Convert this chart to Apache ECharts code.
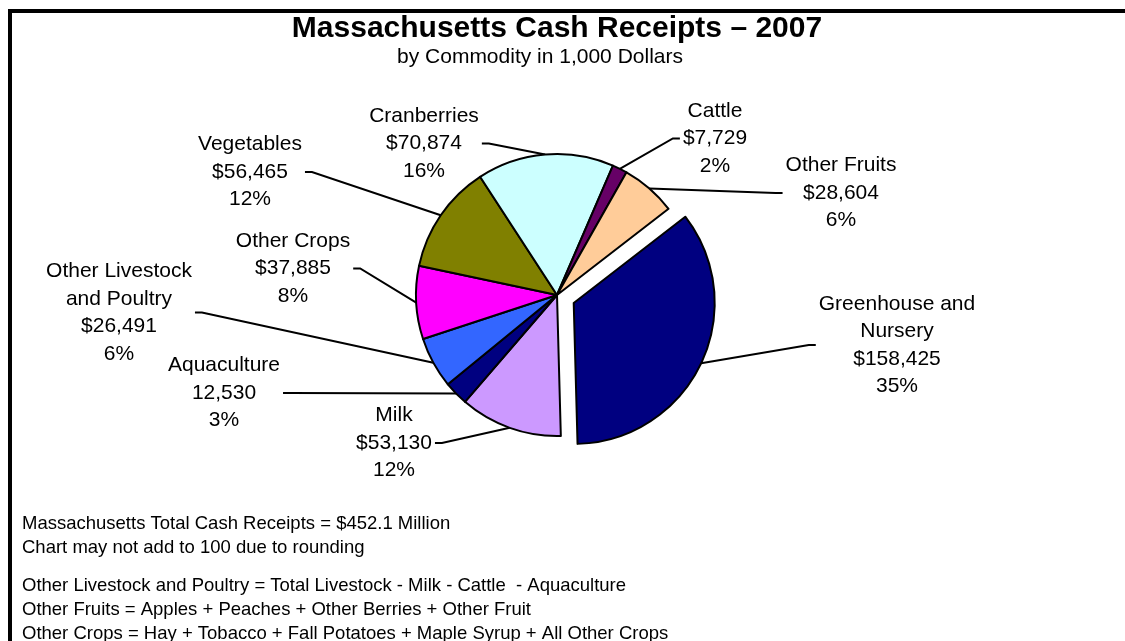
<!DOCTYPE html>
<html>
<head>
<meta charset="utf-8">
<script src="https://cdn.jsdelivr.net/npm/echarts@6/dist/echarts.min.js"></script>
<style>
html,body{margin:0;padding:0;background:#fff;}
#chart{width:1125px;height:641px;}
</style>
</head>
<body>
<div id="chart"></div>
<script>
// ---- data ----
const categories = ['Greenhouse and\nNursery', 'Milk', 'Aquaculture', 'Other Livestock\nand Poultry', 'Other Crops', 'Vegetables', 'Cranberries', 'Cattle', 'Other Fruits'];
const values = [158425, 53130, 12530, 26491, 37885, 56465, 70874, 7729, 28604];
const valuePrefix = ['$', '$', '', '$', '$', '$', '$', '$', '$'];
const explodedIndex = 0;

const titleText = 'Massachusetts Cash Receipts \u2013 2007';
const subtitleText = 'by Commodity in 1,000 Dollars';
const notes1 = ['Massachusetts Total Cash Receipts = $452.1 Million', 'Chart may not add to 100 due to rounding'];
const notes2 = ['Other Livestock and Poultry = Total Livestock - Milk - Cattle  - Aquaculture', 'Other Fruits = Apples + Peaches + Other Berries + Other Fruit', 'Other Crops = Hay + Tobacco + Fall Potatoes + Maple Syrup + All Other Crops'];

// ---- styles / layout ----
const colors = ['#000080', '#CC99FF', '#000080', '#3366FF', '#FF00FF', '#808000', '#CCFFFF', '#660066', '#FFCC99'];
const labelCenters = [[897, 345], [394, 443], [224, 393], [119, 312.5], [293, 268.5], [250, 172], [424, 143.5], [715, 138.5], [841, 193]];
const pieCenter = [557, 295];
const pieRadius = 141;
const startAngle = 37.7;
const explodeOffset = 18.5;
const FONT = '"Liberation Sans", Arial, Helvetica, sans-serif';

const chart = echarts.init(document.getElementById('chart'), null, {renderer: 'canvas'});

// offset centre for the exploded slice (along its mid angle)
const total = values.reduce((a, b) => a + b, 0);
let before = 0;
for (let i = 0; i < explodedIndex; i++) before += values[i];
const midDeg = startAngle - 360 * (before + values[explodedIndex] / 2) / total;
const midRad = midDeg * Math.PI / 180;
const explodedCenter = [pieCenter[0] + explodeOffset * Math.cos(midRad), pieCenter[1] - explodeOffset * Math.sin(midRad)];

const HIDDEN = {color: 'rgba(0,0,0,0)', borderColor: 'rgba(0,0,0,0)', borderWidth: 0};

function makeData(visibleFn) {
  return categories.map((c, i) => {
    const vis = visibleFn(i);
    return {
      name: c,
      value: values[i],
      itemStyle: vis ? {color: colors[i]} : HIDDEN,
      label: {show: vis},
      labelLine: {show: vis}
    };
  });
}

function labelLayout(params) {
  const i = params.dataIndex;
  const x = labelCenters[i][0], y = labelCenters[i][1];
  const w = params.labelRect.width;
  const left = x < pieCenter[0];
  const sx = left ? x + w / 2 + 3 : x - w / 2 - 3;
  const stubX = left ? sx + 7 : sx - 7;
  const edge = params.labelLinePoints ? params.labelLinePoints[0] : [stubX, y];
  return {x: x, y: y, align: 'center', verticalAlign: 'middle', labelLinePoints: [edge, [stubX, y], [sx, y]]};
}

function pieSeries(center, visibleFn) {
  return {
    type: 'pie',
    center: center,
    radius: pieRadius,
    startAngle: startAngle,
    clockwise: true,
    silent: true,
    avoidLabelOverlap: false,
    percentPrecision: 0,
    itemStyle: {borderColor: '#000', borderWidth: 2},
    emphasis: {disabled: true},
    label: {
      show: true,
      position: 'outside',
      color: '#000',
      fontFamily: FONT,
      fontSize: 21,
      lineHeight: 27.5,
      align: 'center',
      formatter: p => p.name + '\n' + valuePrefix[p.dataIndex] + p.value.toLocaleString('en-US') + '\n' + p.percent + '%'
    },
    labelLine: {show: true, length: 10, length2: 10, lineStyle: {color: '#000', width: 2}},
    labelLayout: labelLayout,
    data: makeData(visibleFn)
  };
}

const graphics = [
  {type: 'rect', shape: {x: 10, y: 11, width: 1400, height: 900}, style: {fill: 'none', stroke: '#000', lineWidth: 4}, silent: true},
  {type: 'text', x: 557, y: 29, style: {text: titleText, font: 'bold 30px ' + FONT, fill: '#000', textAlign: 'center', textVerticalAlign: 'middle'}},
  {type: 'text', x: 540, y: 57, style: {text: subtitleText, font: '21px ' + FONT, fill: '#000', textAlign: 'center', textVerticalAlign: 'middle'}}
];
notes1.forEach((t, i) => graphics.push({type: 'text', x: 22, y: 524 + i * 24, style: {text: t, font: '18.5px ' + FONT, fill: '#000', textAlign: 'left', textVerticalAlign: 'middle'}}));
notes2.forEach((t, i) => graphics.push({type: 'text', x: 22, y: 586 + i * 24, style: {text: t, font: '18.5px ' + FONT, fill: '#000', textAlign: 'left', textVerticalAlign: 'middle'}}));

chart.setOption({
  animation: false,
  backgroundColor: '#fff',
  graphic: graphics,
  series: [
    pieSeries(pieCenter, i => i !== explodedIndex),
    pieSeries(explodedCenter, i => i === explodedIndex)
  ]
});
</script>
</body>
</html>
